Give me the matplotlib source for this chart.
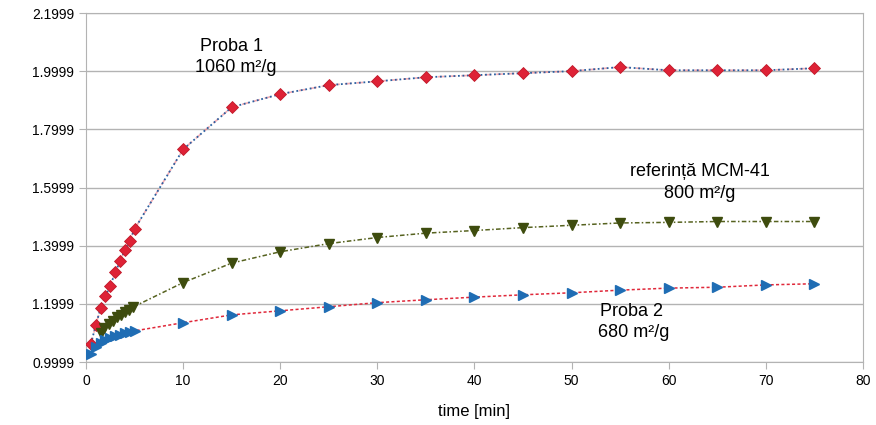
import numpy as np
import matplotlib
matplotlib.use("Agg")
import matplotlib.pyplot as plt

plt.rcParams["font.family"] = ["Liberation Sans", "DejaVu Sans"]

# ---------------------------------------------------
# Date
# ---------------------------------------------------
t_proba1 = [0.5, 1, 1.5, 2, 2.5, 3, 3.5, 4, 4.5, 5,
            10, 15, 20, 25, 30, 35, 40, 45, 50, 55, 60, 65, 70, 75]
y_proba1 = [1.062, 1.126, 1.185, 1.227, 1.262, 1.308, 1.346, 1.385, 1.417, 1.457,
            1.731, 1.876, 1.921, 1.952, 1.965, 1.979, 1.986, 1.993, 2.000, 2.014,
            2.003, 2.003, 2.003, 2.010]

t_ref = [1.5, 1.9, 2.35, 2.75, 3.2, 3.6, 4.0, 4.45, 4.85,
         10, 15, 20, 25, 30, 35, 40, 45, 50, 55, 60, 65, 70, 75]
y_ref = [1.099, 1.116, 1.131, 1.142, 1.154, 1.163, 1.172, 1.179, 1.189,
         1.273, 1.340, 1.379, 1.407, 1.428, 1.443, 1.452, 1.462, 1.470, 1.478,
         1.480, 1.483, 1.483, 1.483]

t_proba2 = [0.5, 1, 1.5, 2, 2.5, 3, 3.5, 4, 4.5, 5,
            10, 15, 20, 25, 30, 35, 40, 45, 50, 55, 60, 65, 70, 75]
y_proba2 = [1.027, 1.053, 1.066, 1.076, 1.084, 1.090, 1.093, 1.099, 1.102, 1.107,
            1.135, 1.162, 1.176, 1.190, 1.204, 1.214, 1.223, 1.231, 1.238, 1.247,
            1.254, 1.257, 1.265, 1.269]

y_ticks = [0.9999, 1.1999, 1.3999, 1.5999, 1.7999, 1.9999, 2.1999]
x_ticks = [0, 10, 20, 30, 40, 50, 60, 70, 80]

# ---------------------------------------------------
# Grafic
# ---------------------------------------------------
fig = plt.figure(figsize=(8.76, 4.25), dpi=100)
ax = fig.add_axes([0.0982, 0.1482, 0.8868, 0.8212])

grid_c = "#b3b3b3"

# Proba 1
ax.plot(t_proba1, y_proba1, ls=(0, (4, 3)), color="#f08a94", lw=1.2, alpha=0.7, zorder=2)
ax.plot(t_proba1, y_proba1, ls=(0, (1, 1.5)), color="#2a5fa0", lw=1.3, zorder=3)
ax.plot(t_proba1, y_proba1, ls="none", marker="D", ms=6, color="#de2236",
        mec="#c01a2a", mew=0.6, zorder=4)

# referinta MCM-41
ax.plot(t_ref, y_ref, ls=(0, (3, 1.5, 1, 1.5)), color="#56621f", lw=1.1, zorder=3)
ax.plot(t_ref, y_ref, ls="none", marker="v", ms=7, color="#3e4c0e", zorder=4)

# Proba 2
ax.plot(t_proba2, y_proba2, ls=(0, (2, 1.5)), color="#e0283a", lw=1.1, zorder=3)
ax.plot(t_proba2, y_proba2, ls="none", marker=">", ms=7, color="#1f6db4", zorder=4)

ax.set_xlim(0, 80)
ax.set_ylim(0.9999, 2.1999)
ax.set_xticks(x_ticks)
ax.set_yticks(y_ticks)
ax.set_yticklabels([f"{v:.4f}" for v in y_ticks])
ax.yaxis.grid(True, color=grid_c, lw=1)
ax.set_axisbelow(True)
for s in ax.spines.values():
    s.set_color(grid_c)
ax.tick_params(colors=grid_c, labelcolor="black", labelsize=10, length=5)
ax.set_xlabel("time [min]", fontsize=12, labelpad=12)

# Etichete
ax.text(15.0, 2.086, "Proba 1", fontsize=13, ha="center", va="center")
ax.text(15.4, 2.014, "1060 m²/g", fontsize=13, ha="center", va="center")
ax.text(63.2, 1.655, "referință MCM-41", fontsize=13, ha="center", va="center")
ax.text(63.2, 1.579, "800 m²/g", fontsize=13, ha="center", va="center")
ax.text(52.9, 1.172, "Proba 2", fontsize=13, ha="left", va="center")
ax.text(52.7, 1.100, "680 m²/g", fontsize=13, ha="left", va="center")

fig.savefig("out.png", dpi=100)
